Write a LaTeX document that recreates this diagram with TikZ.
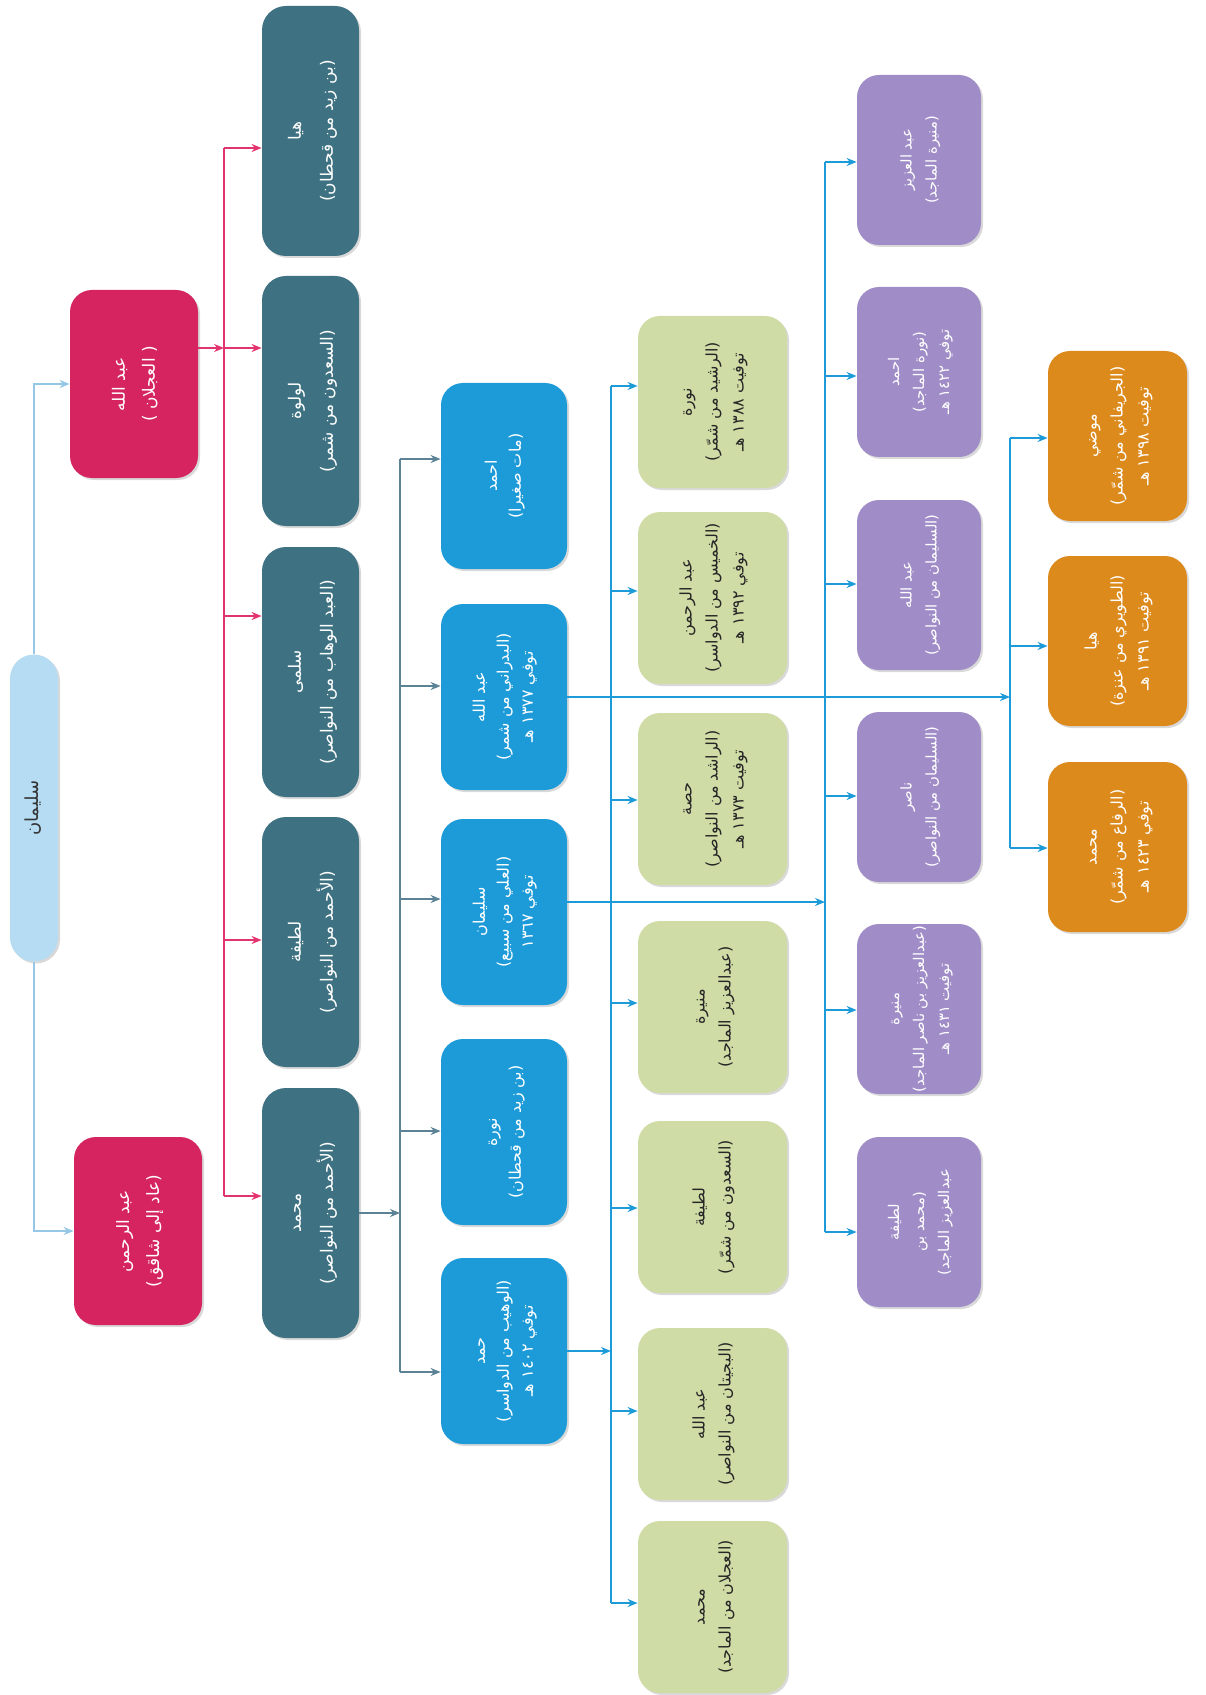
\documentclass[tikz,border=0pt]{standalone}
\usepackage{fontspec}
\usepackage{graphicx}
\usepackage{tikz}
\usetikzlibrary{arrows.meta,calc,shadows}
\newfontfamily\arabicfont[Script=Arabic]{DejaVu Sans}
\TeXXeTstate=1
\definecolor{rootfill}{HTML}{B5DCF2}
\definecolor{rootline}{HTML}{94C8E6}
\definecolor{pinkfill}{HTML}{D5245F}
\definecolor{pinkline}{HTML}{E2346F}
\definecolor{tealfill}{HTML}{3E7282}
\definecolor{tealline}{HTML}{5C8296}
\definecolor{bluefill}{HTML}{1C9BD8}
\definecolor{blueline}{HTML}{1D9BD9}
\definecolor{greenfill}{HTML}{CFDCA6}
\definecolor{purplefill}{HTML}{A08DC8}
\definecolor{orangefill}{HTML}{DD8A1D}
\newcommand{\famlines}[1]{\rotatebox{90}{\begin{tabular}{@{}c@{}}#1\end{tabular}}}

\begin{document}
\begin{tikzpicture}[x=0.5pt,y=-0.5pt,
  famnode/.style={rounded corners=11pt, inner sep=0pt, text=white,
    drop shadow={opacity=0.3, shadow xshift=1pt, shadow yshift=-1pt},
    font=\arabicfont\fontsize{8}{13}\selectfont},
  rootbox/.style={famnode, fill=rootfill, minimum width=24pt, minimum height=153.5pt,
    rounded corners=12pt, text=black!80, font=\arabicfont\fontsize{9}{11}\selectfont},
  pinkbox/.style={famnode, fill=pinkfill, minimum width=64pt, minimum height=94pt,
    font=\arabicfont\fontsize{8.5}{15}\selectfont},
  tealbox/.style={famnode, fill=tealfill, minimum width=48.5pt, minimum height=125pt,
    rounded corners=12pt, font=\arabicfont\fontsize{8.5}{16}\selectfont},
  bluebox/.style={famnode, fill=bluefill, minimum width=63pt, minimum height=93pt,
    font=\arabicfont\fontsize{8}{12}\selectfont},
  greenbox/.style={famnode, fill=greenfill, minimum width=74.5pt, minimum height=86pt, text=black!85},
  purplebox/.style={famnode, fill=purplefill, minimum width=62pt, minimum height=85pt,
    font=\arabicfont\fontsize{7.4}{12.5}\selectfont},
  orangebox/.style={famnode, fill=orangefill, minimum width=69.5pt, minimum height=85pt},
  rootconn/.style={rootline, line width=1pt, -{Stealth[length=5pt,width=4pt]}},
  pinkconn/.style={pinkline, line width=1pt, -{Stealth[length=5pt,width=4pt]}},
  tealconn/.style={tealline, line width=1pt, -{Stealth[length=5pt,width=4pt]}},
  blueconn/.style={blueline, line width=1pt, -{Stealth[length=5pt,width=4pt]}},
]
  \useasboundingbox (0,0) rectangle (1205,1695);

  % --- Root and sons ---
  \node[rootbox] (root) at (34,808) {\famlines{\beginR سليمان\endR}};
  \node[pinkbox] (abdallah) at (134,384) {\famlines{\beginR عبد الله\endR\\\beginR ( العجلان )\endR}};
  \node[pinkbox] (abdrahman) at (138,1231) {\famlines{\beginR عبد الرحمن\endR\\\beginR (عاد إلى شاقق)\endR}};
  \draw[rootconn] (root.north) |- (abdallah.west);
  \draw[rootconn] (root.south) |- (abdrahman.west);

  % --- Wives / children of Abdallah (teal) ---
  \foreach \nm/\yy/\txt in {haya/131/{\beginR هيا\endR\\\beginR (بن زيد من قحطان)\endR},
                            lulwa/401/{\beginR لولوة\endR\\\beginR (السعدون من شمر)\endR},
                            salma/672/{\beginR سلمى\endR\\\beginR (العبد الوهاب من النواصر)\endR},
                            latifa/942/{\beginR لطيفة\endR\\\beginR (الأحمد من النواصر)\endR},
                            muhammad/1213/{\beginR محمد\endR\\\beginR (الأحمد من النواصر)\endR}}
    \node[tealbox] (\nm) at (310.5,\yy) {\famlines{\txt}};

  \foreach \c/\yy in {pk0/148, pk1/348, pk2/616, pk3/940, pk4/1196}
    \coordinate (\c) at (224,\yy);
  \draw[pinkline, line width=1pt] (pk0) -- (pk4);
  \draw[pinkconn] (abdallah.east |- pk1) -- (pk1);
  \foreach \c/\nm in {pk0/haya, pk1/lulwa, pk2/salma, pk3/latifa, pk4/muhammad}
    \draw[pinkconn] (\c) -- (\c -| \nm.west);

  % --- Children of Muhammad (blue) ---
  \foreach \nm/\yy/\txt in {ahmad/476/{\beginR احمد\endR\\\beginR (مات صغيرا)\endR},
                            abdallahb/697/{\beginR عبد الله\endR\\\beginR (البدراني من شمر)\endR\\\beginR توفي ١٣٧٧ هـ\endR},
                            sulaiman/912/{\beginR سليمان\endR\\\beginR (العلي من سبيع)\endR\\\beginR توفي ١٣٦٧\endR},
                            nura/1132/{\beginR نورة\endR\\\beginR (بن زيد من قحطان)\endR},
                            hamad/1351/{\beginR حمد\endR\\\beginR (الوهيب من الدواسر)\endR\\\beginR توفي ١٤٠٢ هـ\endR}}
    \node[bluebox] (\nm) at (504,\yy) {\famlines{\txt}};

  \foreach \c/\yy in {tl0/459, tl1/686, tl2/899, tl3/1131, tl4/1372}
    \coordinate (\c) at (400,\yy);
  \draw[tealline, line width=1pt] (tl0) -- (tl4);
  \draw[tealconn] (muhammad.east) -- (muhammad.east -| tl0);
  \foreach \c/\nm in {tl0/ahmad, tl1/abdallahb, tl2/sulaiman, tl3/nura, tl4/hamad}
    \draw[tealconn] (\c) -- (\c -| \nm.west);

  % --- Children of Hamad (green) ---
  \foreach \nm/\yy/\txt in {nurag/402/{\beginR نورة\endR\\\beginR (الرشيد من شمّر)\endR\\\beginR توفيت ١٣٨٨ هـ\endR},
                            abdrahmang/598/{\beginR عبد الرحمن\endR\\\beginR (الخميس من الدواسر)\endR\\\beginR توفي ١٣٩٢ هـ\endR},
                            hessa/799/{\beginR حصة\endR\\\beginR (الراشد من النواصر)\endR\\\beginR توفيت ١٣٧٣ هـ\endR},
                            munirag/1007/{\beginR منيرة\endR\\\beginR (عبدالعزيز الماجد)\endR},
                            latifag/1207/{\beginR لطيفة\endR\\\beginR (السعدون من شمّر)\endR},
                            abdallahg/1414/{\beginR عبد الله\endR\\\beginR (البجيتان من النواصر)\endR},
                            muhammadg/1607/{\beginR محمد\endR\\\beginR (العجلان من الماجد)\endR}}
    \node[greenbox] (\nm) at (712.5,\yy) {\famlines{\txt}};

  \foreach \c/\yy in {gb0/386, gb1/591, gb2/800, gb3/1003, gb4/1208, gb5/1411, gb6/1603}
    \coordinate (\c) at (611,\yy);
  \draw[blueline, line width=1pt] (gb0) -- (gb6);
  \draw[blueconn] (hamad.east) -- (hamad.east -| gb0);
  \foreach \c/\nm in {gb0/nurag, gb1/abdrahmang, gb2/hessa, gb3/munirag, gb4/latifag, gb5/abdallahg, gb6/muhammadg}
    \draw[blueconn] (\c) -- (\c -| \nm.west);

  % --- Children of Sulaiman (purple) ---
  \foreach \nm/\yy/\txt in {abdaziz/160/{\beginR عبد العزيز\endR\\\beginR (منيرة الماجد)\endR},
                            ahmadp/372/{\beginR احمد\endR\\\beginR (نورة الماجد)\endR\\\beginR توفي ١٤٢٢ هـ\endR},
                            abdallahp/585/{\beginR عبد الله\endR\\\beginR (السليمان من النواصر)\endR},
                            nasser/797/{\beginR ناصر\endR\\\beginR (السليمان من النواصر)\endR},
                            munirap/1009/{\beginR منيرة\endR\\\beginR (عبدالعزيز بن ناصر الماجد)\endR\\\beginR توفيت ١٤٣١ هـ\endR},
                            latifap/1222/{\beginR لطيفة\endR\\\beginR (محمد بن\endR\\\beginR عبدالعزيز الماجد)\endR}}
    \node[purplebox] (\nm) at (919,\yy) {\famlines{\txt}};

  \foreach \c/\yy in {pb0/162, pb1/376, pb2/584, pb3/796, pb4/1010, pb5/1232}
    \coordinate (\c) at (825,\yy);
  \draw[blueline, line width=1pt] (pb0) -- (pb5);
  \draw[blueconn] ($(sulaiman.east)+(0,-10)$) -- ($(sulaiman.east -| pb0)+(0,-10)$);
  \foreach \c/\nm in {pb0/abdaziz, pb1/ahmadp, pb2/abdallahp, pb3/nasser, pb4/munirap, pb5/latifap}
    \draw[blueconn] (\c) -- (\c -| \nm.west);

  % --- Children of Abdallah (orange) ---
  \foreach \nm/\yy/\txt in {mudhi/436/{\beginR موضي\endR\\\beginR (الجريفاني من شمّر)\endR\\\beginR توفيت ١٣٩٨ هـ\endR},
                            hayao/641/{\beginR هيا\endR\\\beginR (الطويري من عنزة)\endR\\\beginR توفيت ١٣٩١ هـ\endR},
                            muhammado/847/{\beginR محمد\endR\\\beginR (الرفاع من شمّر)\endR\\\beginR توفي ١٤٢٣ هـ\endR}}
    \node[orangebox] (\nm) at (1117.5,\yy) {\famlines{\txt}};

  \foreach \c/\yy in {ob0/438, ob1/646, ob2/848}
    \coordinate (\c) at (1010,\yy);
  \draw[blueline, line width=1pt] (ob0) -- (ob2);
  \draw[blueconn] (abdallahb.east) -- (abdallahb.east -| ob0);
  \foreach \c/\nm in {ob0/mudhi, ob1/hayao, ob2/muhammado}
    \draw[blueconn] (\c) -- (\c -| \nm.west);
\end{tikzpicture}
\end{document}
